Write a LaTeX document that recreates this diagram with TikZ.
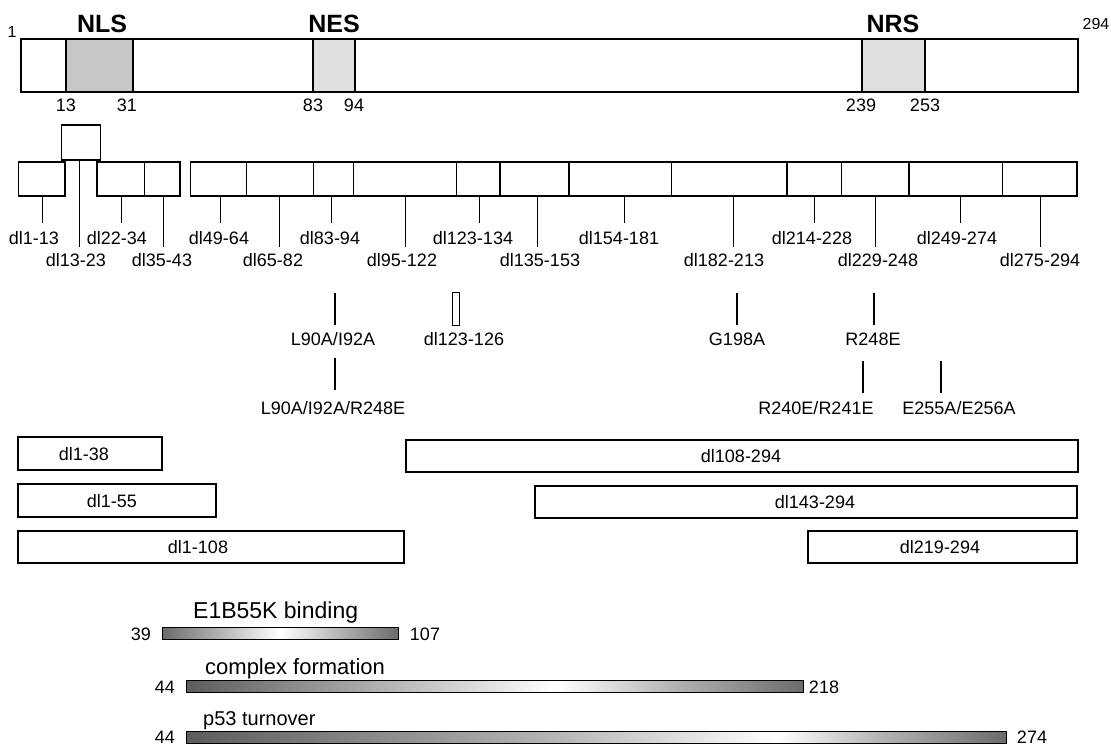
\documentclass[tikz,border=0pt]{standalone}
\usepackage{fontspec}
\setmainfont{Liberation Sans}
\definecolor{nlsfill}{gray}{0.78}
\definecolor{nesfill}{gray}{0.88}
\definecolor{nrsfill}{gray}{0.87}
\definecolor{dkA}{gray}{0.42}
\definecolor{dkB}{gray}{0.36}
\definecolor{mdA}{gray}{0.72}
\pgfdeclarehorizontalshading{shE}{100bp}{color(0bp)=(dkA); color(25bp)=(dkA); color(38bp)=(mdA); color(50bp)=(white); color(62bp)=(mdA); color(75bp)=(dkA); color(100bp)=(dkA)}
\pgfdeclarehorizontalshading{shC}{100bp}{color(0bp)=(dkB); color(25bp)=(dkB); color(42bp)=(mdA); color(55bp)=(white); color(64bp)=(mdA); color(75bp)=(dkA); color(100bp)=(dkA)}
\pgfdeclarehorizontalshading{shP}{100bp}{color(0bp)=(dkB); color(25bp)=(dkB); color(48bp)=(mdA); color(61bp)=(white); color(67bp)=(mdA); color(75bp)=(dkA); color(100bp)=(dkA)}
\begin{document}
\begin{tikzpicture}[x=1pt,y=-1pt,
  boxline/.style={draw=black, line width=1.4pt},
  lead/.style={line width=0.9pt},
  mutmark/.style={line width=2.8pt},
  lab/.style={font=\fontsize{18}{20}\selectfont, inner sep=0pt, anchor=base},
  biglab/.style={font=\fontsize{25}{28}\selectfont\bfseries, inner sep=0pt, anchor=base},
  endlab/.style={font=\fontsize{16}{18}\selectfont, inner sep=0pt, anchor=base},
  barlab/.style={inner sep=0pt, anchor=base west},
  shbar/.style={draw=black, line width=1pt}]
\useasboundingbox (0,0) rectangle (1111,747);

% ---------- top bar ----------
\fill[nlsfill] (66,39) rectangle (133,92);
\fill[nesfill] (313,39) rectangle (355,92);
\fill[nrsfill] (862,39) rectangle (925,92);
\draw[boxline] (66,39) -- (66,92) (133,39) -- (133,92)
  (313,39) -- (313,92) (355,39) -- (355,92)
  (862,39) -- (862,92) (925,39) -- (925,92);
\draw[boxline] (21,39) rectangle (1078,92);
\node[biglab] (nls) at (102,32) {NLS};
\node[biglab] (nes) at (334,32) {NES};
\node[biglab] (nrs) at (893,32) {NRS};
\node[endlab] (one) at (12,37) {1};
\node[endlab] (last) at (1096,29) {294};
\node[lab] (p13) at (66,111) {13};
\node[lab] (p31) at (127,111) {31};
\node[lab] (p83) at (313,111) {83};
\node[lab] (p94) at (354,111) {94};
\node[lab] (p239) at (861,111) {239};
\node[lab] (p253) at (925,111) {253};

% ---------- deletion row ----------
\draw[boxline] (18.6,162) rectangle (65,196);
\draw[boxline] (61.4,125) rectangle (100.4,160);
\draw[boxline] (97,162) rectangle (144.3,196);
\draw[boxline] (144.3,162) rectangle (180,196);
\foreach \a/\b in {190.4/246.4,246.4/313.2,313.2/353.6,353.6/456.4,456.4/500,500/569,569/671.6,671.6/786.9,786.9/841.6,841.6/908.9,908.9/1002.6,1002.6/1077}
  \draw[boxline] (\a,162) rectangle (\b,196);

\coordinate (ra) at (79,160);
\coordinate (rb) at (79,247);
\draw[lead] (ra) -- (rb);
\node[lab] (rt) at (76,266) {dl13-23};

\foreach \lx/\ly/\tx/\ty/\t [count=\i] in {
  42/223/34/244/dl1-13, 121/223/117/244/dl22-34, 163/247/162/266/dl35-43,
  220/223/219/244/dl49-64, 279/247/273/266/dl65-82, 331/223/330/244/dl83-94,
  405/247/402/266/dl95-122, 479/223/473/244/dl123-134, 537/247/540/266/dl135-153,
  624/223/619/244/dl154-181, 733/247/724/266/dl182-213, 814/223/812/244/dl214-228,
  875/247/878/266/dl229-248, 960/223/957/244/dl249-274, 1040/247/1040/266/dl275-294}{
  \coordinate (la\i) at (\lx,196);
  \coordinate (lb\i) at (\lx,\ly);
  \draw[lead] (la\i) -- (lb\i);
  \node[lab] (lt\i) at (\tx,\ty) {\t};
}

% ---------- point mutations ----------
\coordinate (m1a) at (335,293); \coordinate (m1b) at (335,325);
\draw[mutmark] (m1a) -- (m1b);
\node[lab] (m1t) at (333,345) {L90A/I92A};
\coordinate (m2a) at (335,358); \coordinate (m2b) at (335,390);
\draw[mutmark] (m2a) -- (m2b);
\node[lab] (m2t) at (333,414) {L90A/I92A/R248E};
\draw[line width=0.9pt] (452,292) rectangle (459,325);
\node[lab] (m3t) at (464,345) {dl123-126};
\coordinate (m4a) at (737,293); \coordinate (m4b) at (737,325);
\draw[mutmark] (m4a) -- (m4b);
\node[lab] (m4t) at (737,345) {G198A};
\coordinate (m5a) at (874,293); \coordinate (m5b) at (874,325);
\draw[mutmark] (m5a) -- (m5b);
\node[lab] (m5t) at (873,345) {R248E};
\coordinate (m6a) at (863,361); \coordinate (m6b) at (863,393);
\draw[mutmark] (m6a) -- (m6b);
\node[lab] (m6t) at (816,414) {R240E/R241E};
\coordinate (m7a) at (941,361); \coordinate (m7b) at (941,393);
\draw[mutmark] (m7a) -- (m7b);
\node[lab] (m7t) at (959,414) {E255A/E256A};

% ---------- large deletions ----------
\draw[boxline] (18,437) rectangle (162,470);
\node[lab] (d1) at (84,460) {dl1-38};
\draw[boxline] (18,484) rectangle (216,517);
\node[lab] (d2) at (112,507) {dl1-55};
\draw[boxline] (18,531) rectangle (404,563);
\node[lab] (d3) at (198,553) {dl1-108};
\draw[boxline] (406,440) rectangle (1078,472);
\node[lab] (d4) at (741,462) {dl108-294};
\draw[boxline] (535,486) rectangle (1077,518);
\node[lab] (d5) at (815,508) {dl143-294};
\draw[boxline] (808,531) rectangle (1077,563);
\node[lab] (d6) at (940,553) {dl219-294};

% ---------- functional regions ----------
\shadedraw[shbar, shading=shE] (162,627) rectangle (398,639);
\node[barlab, font=\fontsize{23}{26}\selectfont] (fe) at (193,618) {E1B55K binding};
\node[lab] (fe1) at (141,640) {39};
\node[lab] (fe2) at (425,640) {107};

\shadedraw[shbar, shading=shC] (186,680) rectangle (803,692);
\node[barlab, font=\fontsize{22}{25}\selectfont] (fc) at (205,674) {complex formation};
\node[lab] (fc1) at (165,693) {44};
\node[lab] (fc2) at (824,693) {218};

\shadedraw[shbar, shading=shP] (186,731) rectangle (1006,743);
\node[barlab, font=\fontsize{20}{23}\selectfont] (fp) at (203,725) {p53 turnover};
\node[lab] (fp1) at (165,743.5) {44};
\node[lab] (fp2) at (1032,743.5) {274};
\end{tikzpicture}
\end{document}
